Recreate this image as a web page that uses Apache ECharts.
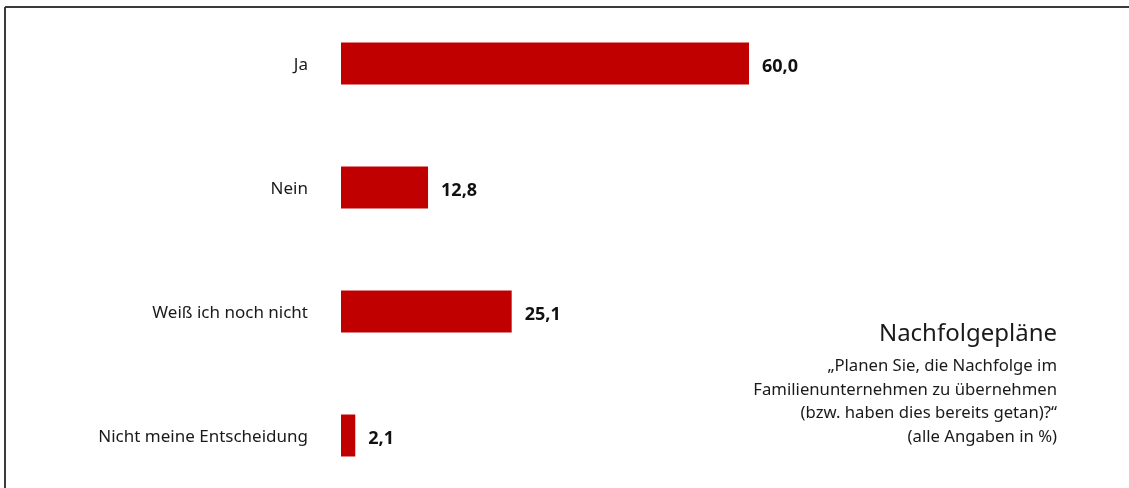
<!DOCTYPE html>
<html>
<head>
<meta charset="utf-8">
<script src="https://cdn.jsdelivr.net/npm/echarts@6/dist/echarts.min.js"></script>
<style>
  html, body { margin: 0; padding: 0; background: #fff; }
  #chart { width: 1129px; height: 488px; }
</style>
</head>
<body>
<div id="chart"></div>
<script>
// Antworten und Anteile in Prozent
const categories = ['Ja', 'Nein', 'Weiß ich noch nicht', 'Nicht meine Entscheidung'];
const values = [60.0, 12.8, 25.1, 2.1];
const titleText = 'Nachfolgepläne';
const subtitleLines = [
  '„Planen Sie, die Nachfolge im',
  'Familienunternehmen zu übernehmen',
  '(bzw. haben dies bereits getan)?“',
  '(alle Angaben in %)'
];

const FONT = '"Noto Sans", sans-serif';
const chart = echarts.init(document.getElementById('chart'), null, { renderer: 'canvas' });

const graphics = [
  { type: 'line', shape: { x1: 5, y1: 7, x2: 1129, y2: 7 }, style: { stroke: '#3a3a3a', lineWidth: 2 } },
  { type: 'line', shape: { x1: 5, y1: 7, x2: 5, y2: 488 }, style: { stroke: '#3a3a3a', lineWidth: 2 } },
  { type: 'text', right: 72, top: 322,
    style: { text: titleText, font: '24px ' + FONT, fill: '#1a1a1a', textAlign: 'right' } }
];
subtitleLines.forEach(function (line, i) {
  graphics.push({
    type: 'text', right: 72, top: 358 + i * 23.5,
    style: { text: line, font: '16.7px ' + FONT, fill: '#1a1a1a', textAlign: 'right' }
  });
});

chart.setOption({
  animation: false,
  grid: { left: 341, top: 1.5, width: 680, height: 496, containLabel: false, outerBoundsMode: 'none' },
  xAxis: {
    type: 'value', min: 0, max: 100, show: false
  },
  yAxis: {
    type: 'category', data: categories, inverse: true,
    axisLine: { show: false }, axisTick: { show: false }, splitLine: { show: false },
    axisLabel: {
      margin: 33,
      formatter: function (v) { return '{c|' + v + '}'; },
      rich: { c: { fontSize: 17, fontFamily: FONT, color: '#1a1a1a', padding: [4, 0, 0, 0] } }
    }
  },
  series: [{
    type: 'bar',
    data: values,
    barWidth: 42,
    itemStyle: { color: '#c00000' },
    label: {
      show: true, position: 'right', distance: 13,
      formatter: function (p) { return p.value.toFixed(1).replace('.', ','); },
      fontSize: 18, fontWeight: 'bold', fontFamily: FONT, color: '#111',
      offset: [0, 3]
    }
  }],
  graphic: graphics
});
</script>
</body>
</html>
